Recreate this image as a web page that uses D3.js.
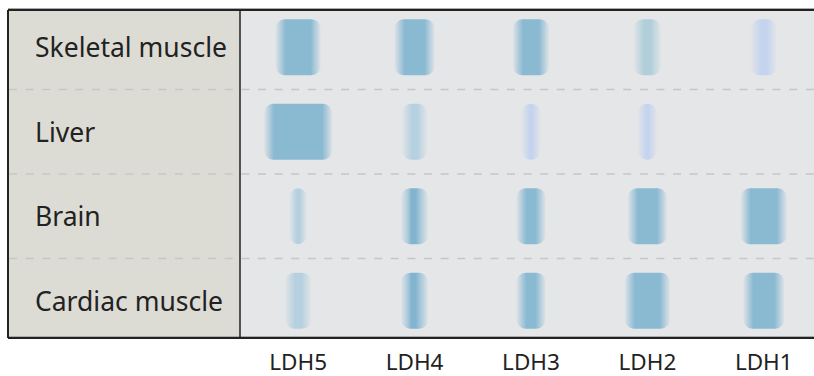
<!DOCTYPE html>
<html><head><meta charset="utf-8">
<script src="https://cdn.jsdelivr.net/npm/d3@7"></script>
<style>body{margin:0;background:#fff}svg{display:block}</style>
</head><body>
<svg id="c" width="814" height="376"></svg>
<script>
// ---- data ----
const tissues = ["Skeletal muscle", "Liver", "Brain", "Cardiac muscle"];
const isoenzymes = ["LDH5", "LDH4", "LDH3", "LDH2", "LDH1"];
// band width (relative amount) per tissue, LDH5..LDH1
const skeletalWidth = [45, 40, 36, 27, 26];
const liverWidth    = [68, 25, 19, 19, 0];
const brainWidth    = [17, 27, 29, 39, 46];
const cardiacWidth  = [26, 27, 29, 45, 41];
// band intensity per tissue, LDH5..LDH1
const skeletalIntensity = [1, 1, 1, 0.55, 0.3];
const liverIntensity    = [1, 0.5, 0.3, 0.3, 0];
const brainIntensity    = [0.5, 0.8, 1, 1, 1];
const cardiacIntensity  = [0.5, 0.85, 1, 1, 1];

const widths = [skeletalWidth, liverWidth, brainWidth, cardiacWidth];
const intens = [skeletalIntensity, liverIntensity, brainIntensity, cardiacIntensity];
const cells = [];
tissues.forEach((t, i) => isoenzymes.forEach((e, j) => {
  if (widths[i][j] > 0) cells.push({tissue: t, iso: e, w: widths[i][j], v: intens[i][j], id: "g" + i + "_" + j});
}));

const svg = d3.select("#c");
const yTop = 10, yBottom = 338, xLeft = 8, divX = 240, xRight = 814;
const y = d3.scaleBand().domain(tissues).range([5, 343]);
const x = d3.scaleBand().domain(isoenzymes).range([divX, 822]);
const wScale = d3.scaleLinear().domain([0, 68]).range([0, 68]);
const color = d3.scaleLinear().domain([0.3, 0.55, 1]).range(["#c5d4ee", "#b1cfdb", "#8ab9d2"]);

// panels
svg.append("rect").attr("x", xLeft).attr("y", yTop).attr("width", divX - xLeft).attr("height", yBottom - yTop).attr("fill", "#dcdcd5");
svg.append("rect").attr("x", divX).attr("y", yTop).attr("width", xRight - divX).attr("height", yBottom - yTop).attr("fill", "#e5e6e8");

// dashed separators
const seps = tissues.slice(1).map(t => y(t));
svg.selectAll("line.sep").data(seps).join("line").attr("class", "sep")
  .attr("x1", xLeft + 1).attr("x2", xRight).attr("y1", d => d).attr("y2", d => d)
  .attr("stroke", "#c6c6c6").attr("stroke-width", 1.6).attr("stroke-dasharray", "8 8.6");

// gradients
const defs = svg.append("defs");
cells.forEach(c => {
  const w = wScale(c.w);
  const f = Math.min(0.42, 10 / w);
  const g = defs.append("linearGradient").attr("id", c.id).attr("x1", 0).attr("x2", 1).attr("y1", 0).attr("y2", 0);
  const col = color(c.v);
  const striped = c.v >= 0.8 && c.v < 1;
  const stops = striped
    ? [[0, 0.08, col], [0.2, 0.6, col], [0.38, 1, "#82b4d0"], [0.55, 1, "#82b4d0"], [0.8, 0.6, col], [1, 0.08, col]]
    : [[0, 0.08, col], [f, 1, col], [1 - f, 1, col], [1, 0.08, col]];
  stops.forEach(s => g.append("stop").attr("offset", s[0]).attr("stop-color", s[2]).attr("stop-opacity", s[1]));
});

// bands
const bandH = 56;
svg.append("g").selectAll("rect").data(cells).join("rect")
  .attr("x", d => x(d.iso) + x.bandwidth() / 2 - wScale(d.w) / 2)
  .attr("y", d => y(d.tissue) + y.bandwidth() / 2 - bandH / 2)
  .attr("width", d => wScale(d.w)).attr("height", bandH)
  .attr("rx", d => Math.min(9, wScale(d.w) / 2)).attr("ry", 9)
  .attr("fill", d => `url(#${d.id})`);

// borders
svg.append("line").attr("x1", xLeft).attr("x2", xRight).attr("y1", yTop - 1.5).attr("y2", yTop - 1.5).attr("stroke", "#aaa").attr("stroke-width", 1);
svg.append("line").attr("x1", xLeft).attr("x2", xRight).attr("y1", yTop).attr("y2", yTop).attr("stroke", "#222").attr("stroke-width", 2);
svg.append("line").attr("x1", xLeft).attr("x2", xRight).attr("y1", yBottom - 1.5).attr("y2", yBottom - 1.5).attr("stroke", "#aaa").attr("stroke-width", 1);
svg.append("line").attr("x1", xLeft).attr("x2", xRight).attr("y1", yBottom).attr("y2", yBottom).attr("stroke", "#222").attr("stroke-width", 2);
svg.append("line").attr("x1", xLeft).attr("x2", xLeft).attr("y1", yTop).attr("y2", yBottom).attr("stroke", "#222").attr("stroke-width", 2);
svg.append("line").attr("x1", divX).attr("x2", divX).attr("y1", yTop).attr("y2", yBottom).attr("stroke", "#222").attr("stroke-width", 1.5);

// row labels
svg.append("g").selectAll("text").data(tissues).join("text")
  .attr("x", 35).attr("y", d => y(d) + y.bandwidth() / 2 + 10)
  .attr("font-family", "Noto Sans").attr("font-size", 26.5).attr("fill", "#222")
  .text(d => d);

// column labels
svg.append("g").selectAll("text").data(isoenzymes).join("text")
  .attr("x", d => x(d) + x.bandwidth() / 2).attr("y", 370)
  .attr("text-anchor", "middle")
  .attr("font-family", "Noto Sans").attr("font-size", 22.5).attr("fill", "#222")
  .text(d => d);
</script>
</body></html>
